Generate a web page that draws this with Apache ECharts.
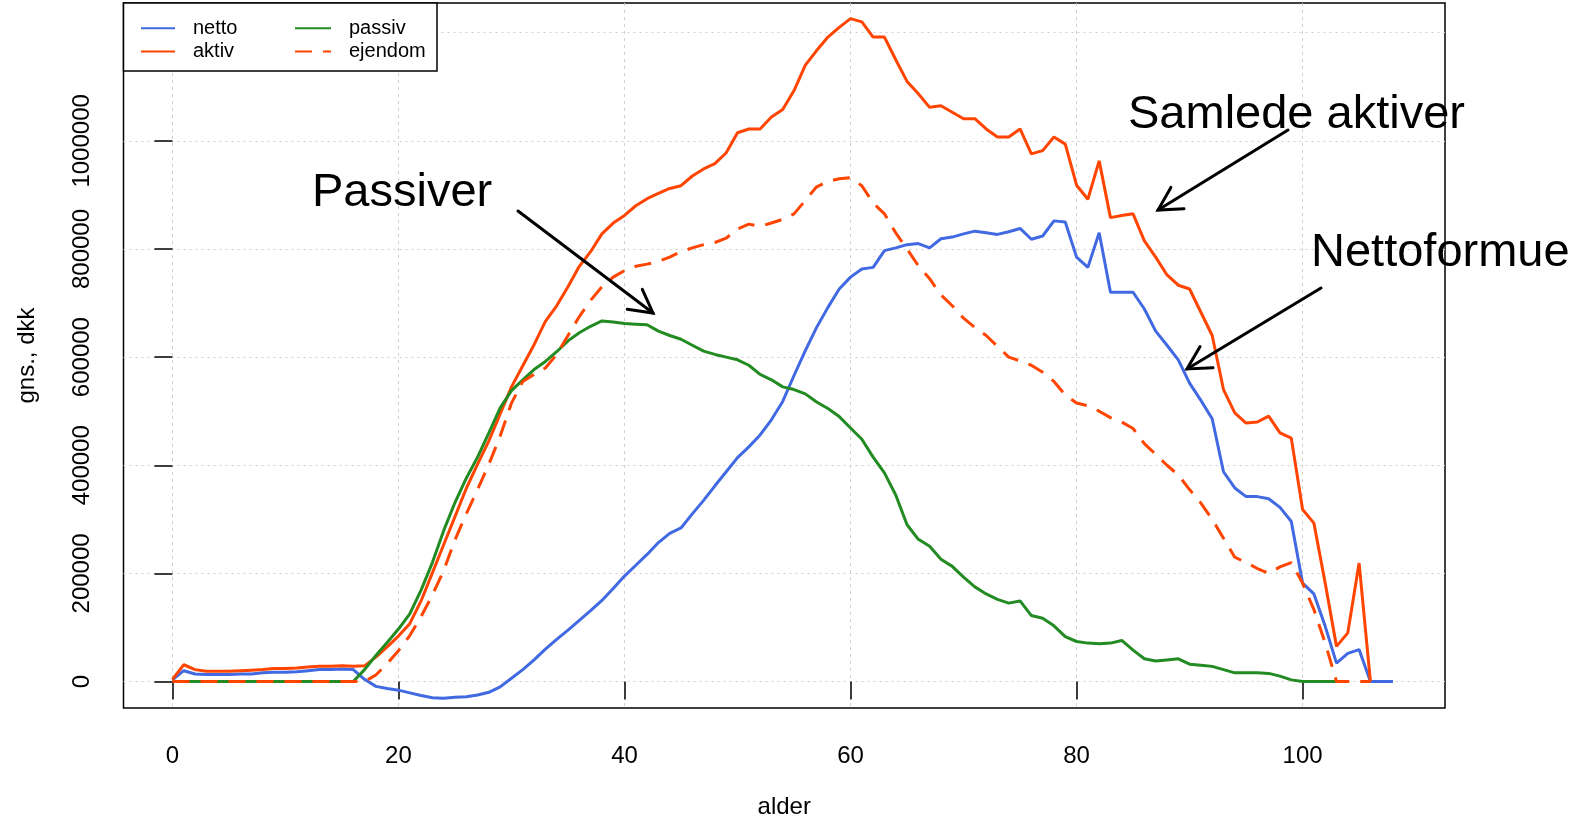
<!DOCTYPE html>
<html>
<head>
<meta charset="utf-8">
<script src="https://cdn.jsdelivr.net/npm/echarts@6/dist/echarts.min.js"></script>
<style>
  html, body { margin: 0; padding: 0; background: #fff; }
  #chart { width: 1587px; height: 818px; }
</style>
</head>
<body>
<div id="chart"></div>
<script>
// alder 0..108
const ages = [
  0, 1, 2, 3, 4, 5, 6, 7, 8, 9, 10, 11, 12, 13, 14, 15, 16, 17, 18, 19,
  20, 21, 22, 23, 24, 25, 26, 27, 28, 29, 30, 31, 32, 33, 34, 35, 36, 37, 38, 39,
  40, 41, 42, 43, 44, 45, 46, 47, 48, 49, 50, 51, 52, 53, 54, 55, 56, 57, 58, 59,
  60, 61, 62, 63, 64, 65, 66, 67, 68, 69, 70, 71, 72, 73, 74, 75, 76, 77, 78, 79,
  80, 81, 82, 83, 84, 85, 86, 87, 88, 89, 90, 91, 92, 93, 94, 95, 96, 97, 98, 99,
  100, 101, 102, 103, 104, 105, 106, 107, 108
];

const netto = [
  3000, 20000, 14000, 13000, 13000, 13000, 14000, 14000, 16000, 17000,
  17000, 18000, 20000, 22000, 22000, 23000, 22000, 4000, -9000, -13000,
  -16000, -21000, -26000, -30000, -31000, -29000, -28000, -25000, -20000, -10000,
  6000, 22000, 40000, 60000, 78000, 95000, 113000, 131000, 150000, 172000,
  195000, 215000, 235000, 257000, 274000, 284000, 310000, 335000, 362000, 388000,
  414000, 434000, 456000, 484000, 518000, 566000, 612000, 655000, 692000, 726000,
  748000, 763000, 766000, 797000, 802000, 808000, 810000, 802000, 819000, 822000,
  828000, 833000, 830000, 827000, 832000, 838000, 818000, 824000, 852000, 850000,
  785000, 766000, 830000, 720000, 720000, 720000, 689000, 648000, 622000, 595000,
  552000, 520000, 486000, 388000, 358000, 342000, 342000, 338000, 322000, 296000,
  182000, 162000, 102000, 34000, 52000, 59000, 0, 0, 0
];

const aktiv = [
  4000, 31000, 22000, 19000, 19000, 19000, 20000, 21000, 22000, 24000,
  24000, 25000, 27000, 28000, 28000, 29000, 28000, 29000, 45000, 64000,
  84000, 107000, 149000, 201000, 253000, 305000, 357000, 402000, 445000, 495000,
  545000, 584000, 623000, 666000, 695000, 730000, 768000, 795000, 828000, 848000,
  862000, 880000, 893000, 903000, 912000, 917000, 935000, 948000, 958000, 978000,
  1015000, 1022000, 1022000, 1044000, 1058000, 1093000, 1140000, 1167000, 1192000, 1210000,
  1226000, 1220000, 1192000, 1192000, 1150000, 1110000, 1087000, 1062000, 1065000, 1053000,
  1041000, 1041000, 1022000, 1007000, 1007000, 1022000, 976000, 982000, 1007000, 994000,
  918000, 892000, 963000, 858000, 862000, 865000, 815000, 785000, 752000, 733000,
  726000, 683000, 640000, 540000, 497000, 478000, 480000, 491000, 460000, 450000,
  318000, 293000, 182000, 65000, 90000, 219000, 0, null, null
];

const passiv = [
  0, 0, 0, 0, 0, 0, 0, 0, 0, 0,
  0, 0, 0, 0, 0, 0, 0, 22000, 48000, 72000,
  97000, 125000, 169000, 220000, 279000, 331000, 376000, 415000, 460000, 506000,
  538000, 558000, 577000, 592000, 610000, 630000, 645000, 657000, 667000, 665000,
  662000, 661000, 660000, 648000, 640000, 633000, 622000, 611000, 605000, 600000,
  595000, 585000, 568000, 558000, 545000, 540000, 532000, 517000, 505000, 490000,
  469000, 448000, 415000, 386000, 345000, 290000, 263000, 250000, 226000, 213000,
  193000, 175000, 162000, 152000, 145000, 149000, 122000, 117000, 103000, 83000,
  74000, 71000, 70000, 71000, 76000, 58000, 42000, 38000, 40000, 42000,
  32000, 30000, 28000, 22000, 16000, 16000, 16000, 15000, 10000, 3000,
  0, 0, 0, 0, 0, null, null, null, null
];

const ejendom = [
  0, 0, 0, 0, 0, 0, 0, 0, 0, 0,
  0, 0, 0, 0, 0, 0, 0, 0, 12000, 33000,
  57000, 85000, 120000, 160000, 205000, 262000, 310000, 355000, 402000, 454000,
  515000, 555000, 568000, 580000, 605000, 640000, 675000, 705000, 730000, 748000,
  760000, 768000, 772000, 777000, 785000, 795000, 802000, 808000, 812000, 820000,
  837000, 846000, 842000, 848000, 855000, 865000, 890000, 915000, 925000, 930000,
  932000, 917000, 885000, 865000, 830000, 800000, 769000, 745000, 715000, 695000,
  672000, 655000, 640000, 620000, 600000, 593000, 585000, 572000, 555000, 530000,
  515000, 510000, 500000, 488000, 480000, 468000, 440000, 420000, 400000, 382000,
  355000, 330000, 300000, 265000, 230000, 220000, 209000, 200000, 212000, 220000,
  182000, 133000, 71000, 0, 0, 0, 0, null, null
];

const xTicks = [0, 20, 40, 60, 80, 100];
const yTicks = [0, 200000, 400000, 600000, 800000, 1000000, 1200000];

const FONT = "'Liberation Sans', Arial, sans-serif";
const pairs = vals => ages.map((a, i) => [a, vals[i]]);

const chart = echarts.init(document.getElementById('chart'));

// pile med åben spids
function arrow(x1, y1, x2, y2) {
  const ang = Math.atan2(y2 - y1, x2 - x1);
  const len = 26, spread = 0.5;
  const w1 = [x2 - len * Math.cos(ang - spread), y2 - len * Math.sin(ang - spread)];
  const w2 = [x2 - len * Math.cos(ang + spread), y2 - len * Math.sin(ang + spread)];
  const st = { stroke: '#000', lineWidth: 3, lineCap: 'round' };
  return [
    { type: 'line', z: 10, shape: { x1, y1, x2, y2 }, style: st },
    { type: 'polyline', z: 10, shape: { points: [w1, [x2, y2], w2] }, style: Object.assign({ fill: null }, st) }
  ];
}

function label(text, x, y) {
  return {
    type: 'text', z: 10, x, y,
    style: { text, fill: '#000', font: "47px 'Liberation Sans', Arial, sans-serif", textAlign: 'left', textVerticalAlign: 'middle' }
  };
}

const legendBase = {
  orient: 'vertical', top: 16.5, itemHeight: 12, itemGap: 0, padding: 0, selectedMode: false,
  itemStyle: { opacity: 0, borderWidth: 0 },
  textStyle: { fontFamily: FONT, fontSize: 20, lineHeight: 23.4, color: '#000', padding: [0, 0, 0, 13] }
};

const option = {
  backgroundColor: '#fff',
  animation: false,
  grid: {
    left: 123.5, top: 3, right: 142, bottom: 110,
    outerBoundsMode: 'none', containLabel: false,
    show: true, borderColor: '#000', borderWidth: 1.5, backgroundColor: 'transparent'
  },
  xAxis: {
    type: 'value',
    min: -4.33, max: 112.6,
    name: 'alder', nameLocation: 'middle', nameGap: 87,
    nameTextStyle: { fontFamily: FONT, fontSize: 24, color: '#000' },
    axisLine: { show: false },
    axisTick: { show: true, length: 18, lineStyle: { color: '#000', width: 1.5 }, customValues: xTicks },
    axisLabel: { fontFamily: FONT, fontSize: 24, color: '#000', margin: 36, customValues: xTicks },
    splitLine: { show: true, lineStyle: { color: '#cfcfcf', width: 1, type: [3, 4] } }
  },
  yAxis: {
    type: 'value',
    min: -49000, max: 1255000,
    name: 'gns., dkk', nameLocation: 'middle', nameGap: 84, nameRotate: 90,
    nameTextStyle: { fontFamily: FONT, fontSize: 24, color: '#000' },
    axisLine: { show: false },
    axisTick: { show: true, length: 18, lineStyle: { color: '#000', width: 1.5 }, customValues: yTicks },
    axisLabel: {
      fontFamily: FONT, fontSize: 24, color: '#000', margin: 29, rotate: 90,
      customValues: yTicks,
      formatter: v => (v >= 1200000 ? '' : String(v))
    },
    splitLine: { show: true, lineStyle: { color: '#cfcfcf', width: 1, type: [2, 4] } }
  },
  legend: [
    Object.assign({}, legendBase, { data: ['netto', 'aktiv'], left: 140, itemWidth: 34 }),
    Object.assign({}, legendBase, { data: ['passiv', 'ejendom'], left: 294, itemWidth: 36 })
  ],
  graphic: [
    { type: 'rect', z: 3, shape: { x: 123.5, y: 3, width: 313.5, height: 68 }, style: { fill: '#fff', stroke: '#000', lineWidth: 1.5 } },
    label('Samlede aktiver', 1128, 115),
    label('Passiver', 312, 193),
    label('Nettoformue', 1311, 253),
    ...arrow(1288, 130, 1158, 210),
    ...arrow(1321, 288, 1187, 369),
    ...arrow(518, 211, 653, 313)
  ],
  series: [
    { name: 'netto', type: 'line', data: pairs(netto), symbol: 'none', color: '#4169E1', lineStyle: { width: 3, color: '#4169E1' } },
    { name: 'aktiv', type: 'line', data: pairs(aktiv), symbol: 'none', color: '#FF4500', lineStyle: { width: 3, color: '#FF4500' } },
    { name: 'passiv', type: 'line', data: pairs(passiv), symbol: 'none', color: '#228B22', lineStyle: { width: 3, color: '#228B22' } },
    { name: 'ejendom', type: 'line', data: pairs(ejendom), symbol: 'none', color: '#FF4500', lineStyle: { width: 3, color: '#FF4500', type: [17, 11] } }
  ]
};

chart.setOption(option);
</script>
</body>
</html>
